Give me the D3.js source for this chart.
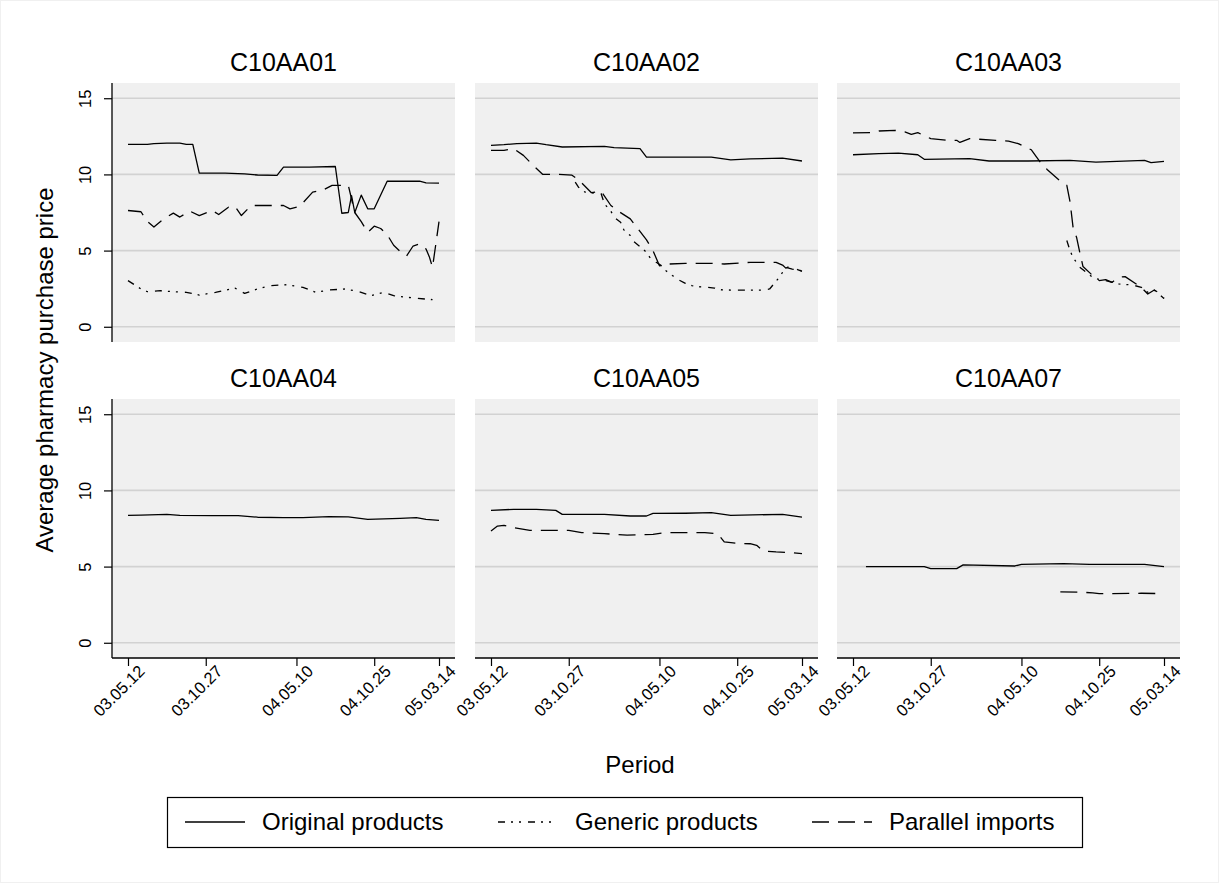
<!DOCTYPE html>
<html lang="en">
<head>
<meta charset="utf-8">
<title>Average pharmacy purchase price by ATC code</title>
<script src="https://d3js.org/d3.v7.min.js"></script>
<style>
  html, body { margin: 0; padding: 0; background: #fff; }
  svg { display: block; font-family: "Liberation Sans", Arial, Helvetica, sans-serif; }
  .grid { stroke: #d2d2d2; stroke-width: 1.6; }
  .series { fill: none; stroke: #000; stroke-width: 1.3; stroke-linejoin: round; }
</style>
</head>
<body>
<svg id="chart" width="1219" height="883"></svg>
<script>
// ---- data (weeks after 2003-05-12, price) ----
const panels = ["C10AA01", "C10AA02", "C10AA03", "C10AA04", "C10AA05", "C10AA07"];
const seriesNames = ["Original products", "Generic products", "Parallel imports"];
const tickLabels = ["03.05.12", "03.10.27", "04.05.10", "04.10.25", "05.03.14"];
const yTicks = [0, 5, 10, 15];

const c01Original = [[0,11.97],[6,11.97],[8,12.02],[12,12.06],[16,12.05],[18,11.97],[20,11.97],[22,10.09],[30,10.08],[36,10.03],[40,9.96],[46,9.94],[48,10.48],[56,10.48],[64,10.52],[66,7.45],[68,7.5],[69,8.6],[70,7.5],[72,8.64],[74,7.74],[76,7.74],[80,9.55],[90,9.56],[92,9.45],[96,9.43]];
const c01Generic = [[0,3.03],[4,2.48],[6,2.3],[10,2.37],[14,2.3],[18,2.26],[22,2.08],[27,2.26],[30,2.4],[33,2.54],[36,2.19],[40,2.48],[44,2.7],[49,2.76],[54,2.59],[58,2.26],[62,2.41],[67,2.48],[71,2.32],[75,2.04],[79,2.26],[82,2.04],[88,1.89],[94,1.78]];
const c01Parallel = [[0,7.63],[4,7.55],[6,6.9],[8,6.55],[11,7.08],[14,7.46],[16,7.2],[19,7.6],[22,7.3],[26,7.63],[28,7.37],[31,7.85],[33,7.9],[35,7.3],[38,7.96],[43,7.96],[48,7.96],[50,7.74],[53,7.9],[57,8.84],[60,8.95],[63,9.28],[68,9.28],[70,7.5],[72,6.9],[74,6.2],[76,6.6],[78,6.45],[80,6.05],[82,5.35],[84,4.95],[86,4.65],[88,5.3],[90,5.45],[92,5.1],[93,4.6],[94,3.9],[96,6.9]];

const c02Original = [[0,11.9],[4,11.95],[8,12.02],[14,12.06],[17,11.95],[22,11.8],[35,11.84],[38,11.76],[46,11.69],[48,11.14],[58,11.14],[68,11.14],[74,10.96],[80,11.02],[90,11.07],[96,10.88]];
const c02Generic = [[26,9.49],[27,9.16],[29,8.84],[34,8.73],[35,8.07],[37,7.59],[38,7.19],[40,6.86],[41,6.36],[43,5.99],[44,5.61],[46,5.26],[48,4.89],[49,4.56],[51,4.23],[53,3.95],[54,3.68],[56,3.36],[58,3.07],[60,2.85],[62,2.7],[64,2.63],[67,2.59],[69,2.54],[71,2.43],[74,2.41],[80,2.41],[84,2.41],[86,2.48],[89,3.25],[91,3.9],[93,3.79],[96,3.68]];
const c02Parallel = [[0,11.58],[4,11.58],[7,11.69],[10,11.25],[13,10.6],[16,10.0],[21,10.0],[25,9.95],[27,9.65],[31,8.8],[34,8.9],[37,7.96],[39,7.63],[43,7.08],[45,6.53],[48,5.7],[50,5.0],[52,4.0],[55,4.12],[60,4.16],[68,4.16],[72,4.12],[80,4.23],[88,4.23],[90,4.05],[91,3.85],[92,3.95],[96,3.64]];

const c03Original = [[0,11.29],[8,11.36],[14,11.4],[20,11.29],[22,10.99],[36,11.03],[42,10.88],[54,10.88],[67,10.92],[75,10.81],[90,10.92],[92,10.77],[96,10.86]];
const c03Generic = [[66,5.66],[67,5.0],[68,4.5],[69,4.23],[70,3.9],[72,3.57],[74,3.24],[76,3.1],[78,3.03],[80,2.92],[82,2.81],[85,2.76],[87,2.7],[89,2.59],[91,2.26],[93,2.41],[95,2.04],[96,1.86]];
const c03Parallel = [[0,12.72],[6,12.74],[8,12.85],[13,12.89],[16,12.79],[18,12.63],[20,12.74],[24,12.35],[29,12.24],[32,12.24],[33,12.1],[36,12.35],[44,12.24],[48,12.19],[51,12.02],[55,11.62],[58,10.75],[60,10.31],[64,9.56],[66,9.28],[67,8.2],[68,6.4],[69,5.88],[70,4.89],[71,3.95],[74,3.36],[76,3.03],[78,3.1],[80,2.92],[82,3.25],[84,3.29],[89,2.59],[91,2.15],[93,2.41],[95,2.15],[96,1.86]];

const c04Original = [[0,8.36],[4,8.38],[12,8.43],[16,8.36],[26,8.34],[34,8.34],[40,8.24],[48,8.21],[54,8.21],[62,8.28],[68,8.26],[74,8.1],[84,8.16],[89,8.21],[92,8.1],[96,8.03]];

const c05Original = [[0,8.69],[7,8.76],[14,8.76],[20,8.69],[22,8.43],[35,8.43],[43,8.32],[48,8.32],[50,8.49],[60,8.5],[68,8.54],[74,8.36],[90,8.43],[96,8.25]];
const c05Parallel = [[0,7.34],[2,7.66],[4,7.71],[7,7.55],[12,7.38],[24,7.38],[28,7.23],[35,7.16],[42,7.07],[50,7.12],[54,7.23],[66,7.23],[70,7.16],[72,6.62],[76,6.53],[80,6.5],[82,6.4],[84,6.03],[88,5.96],[92,5.92],[96,5.85]];

const c07Original = [[4,5.0],[14,5.0],[22,5.0],[24,4.87],[32,4.87],[34,5.11],[50,5.04],[52,5.15],[65,5.2],[73,5.15],[90,5.15],[96,5.0]];
const c07Parallel = [[64,3.34],[70,3.32],[74,3.28],[76,3.23],[80,3.23],[89,3.25],[94,3.23]];

const panelSeries = [
  [c01Original, c01Generic, c01Parallel],
  [c02Original, c02Generic, c02Parallel],
  [c03Original, c03Generic, c03Parallel],
  [c04Original, [], []],
  [c05Original, [], c05Parallel],
  [c07Original, [], c07Parallel]
];

// ---- layout ----
const dash = ["none", "7,6,2,6,2,7", "17,9"];
const colLeft = [112, 475, 837];
const rowTop = [83, 399];
const pw = 343, ph = 259;
const fontMain = 24, fontTitle = 25, fontTick = 16.5;

const parseTick = d3.timeParse("%y.%m.%d");
const start = parseTick(tickLabels[0]);
const end = parseTick(tickLabels[tickLabels.length - 1]);
const weekDate = w => d3.timeDay.offset(start, Math.round(w * 7));

const x = d3.scaleTime().domain([start, end]).range([16, pw - 16]);
const y = d3.scaleLinear().domain([-1.0, 16]).range([ph, 0]);

const svg = d3.select("#chart");

svg.append("rect").attr("x", 0.5).attr("y", 0.5).attr("width", 1218).attr("height", 882)
  .attr("fill", "#fff").attr("stroke", "#f0f0f0");

const line = d3.line().x(d => x(weekDate(d[0]))).y(d => y(d[1]));

panels.forEach((name, i) => {
  const col = i % 3, row = Math.floor(i / 3);
  const g = svg.append("g").attr("transform", `translate(${colLeft[col]},${rowTop[row]})`);

  g.append("rect").attr("width", pw).attr("height", ph).attr("fill", "#f0f0f0");

  g.selectAll(".grid").data(yTicks).enter().append("line")
    .attr("class", "grid")
    .attr("x1", 0).attr("x2", pw)
    .attr("y1", d => y(d)).attr("y2", d => y(d));

  svg.append("text")
    .attr("x", colLeft[col] + pw / 2).attr("y", rowTop[row] - 21)
    .attr("dy", "0.35em").attr("text-anchor", "middle")
    .attr("font-size", fontTitle).text(name);

  panelSeries[i].forEach((s, k) => {
    if (!s.length) return;
    g.append("path").datum(s).attr("class", "series")
      .attr("stroke-dasharray", dash[k]).attr("d", line);
  });

  if (col === 0) {
    const ay = g.append("g").call(d3.axisLeft(y).tickValues(yTicks).tickSize(8).tickSizeOuter(0));
    ay.select(".domain").remove();
    ay.selectAll(".tick line").attr("stroke", "#000").attr("stroke-width", 1.2);
    ay.selectAll(".tick text")
      .attr("transform", "rotate(-90)").attr("x", 0).attr("y", -21).attr("dy", 0)
      .attr("text-anchor", "middle").attr("font-size", fontTick).attr("font-family", null);
    g.append("line").attr("x1", 0).attr("x2", 0).attr("y1", 0).attr("y2", ph)
      .attr("stroke", "#000").attr("stroke-width", 1.3);
  }

  if (row === 1) {
    const ax = g.append("g").attr("transform", `translate(0,${ph})`)
      .call(d3.axisBottom(x).tickValues(tickLabels.map(parseTick)).tickFormat(d3.timeFormat("%y.%m.%d")).tickSize(8).tickSizeOuter(0));
    ax.select(".domain").remove();
    ax.selectAll(".tick line").attr("stroke", "#000").attr("stroke-width", 1.2);
    ax.selectAll(".tick text")
      .attr("transform", "translate(9,6) rotate(-45)").attr("x", 0).attr("y", 0).attr("dy", "0.7em")
      .attr("text-anchor", "end").attr("font-size", fontTick).attr("font-family", null);
    g.append("line").attr("x1", 0).attr("x2", pw).attr("y1", ph).attr("y2", ph)
      .attr("stroke", "#000").attr("stroke-width", 1.3);
  }
});

// axis titles
svg.append("text")
  .attr("transform", "translate(45,370) rotate(-90)")
  .attr("dy", "0.35em").attr("text-anchor", "middle").attr("font-size", fontMain)
  .text("Average pharmacy purchase price");

svg.append("text")
  .attr("x", 640).attr("y", 765).attr("dy", "0.35em")
  .attr("text-anchor", "middle").attr("font-size", fontMain).text("Period");

// legend
const legend = svg.append("g");
legend.append("rect").attr("x", 167.5).attr("y", 797.5).attr("width", 915).attr("height", 50)
  .attr("fill", "#fff").attr("stroke", "#000").attr("stroke-width", 1.2);
const legendX = [185, 498, 812];
seriesNames.forEach((n, k) => {
  legend.append("line")
    .attr("x1", legendX[k]).attr("x2", legendX[k] + 60).attr("y1", 822).attr("y2", 822)
    .attr("stroke", "#000").attr("stroke-width", 1.4).attr("stroke-dasharray", dash[k]);
  legend.append("text")
    .attr("x", legendX[k] + 77).attr("y", 822).attr("dy", "0.35em")
    .attr("font-size", fontMain).text(n);
});
</script>
</body>
</html>
